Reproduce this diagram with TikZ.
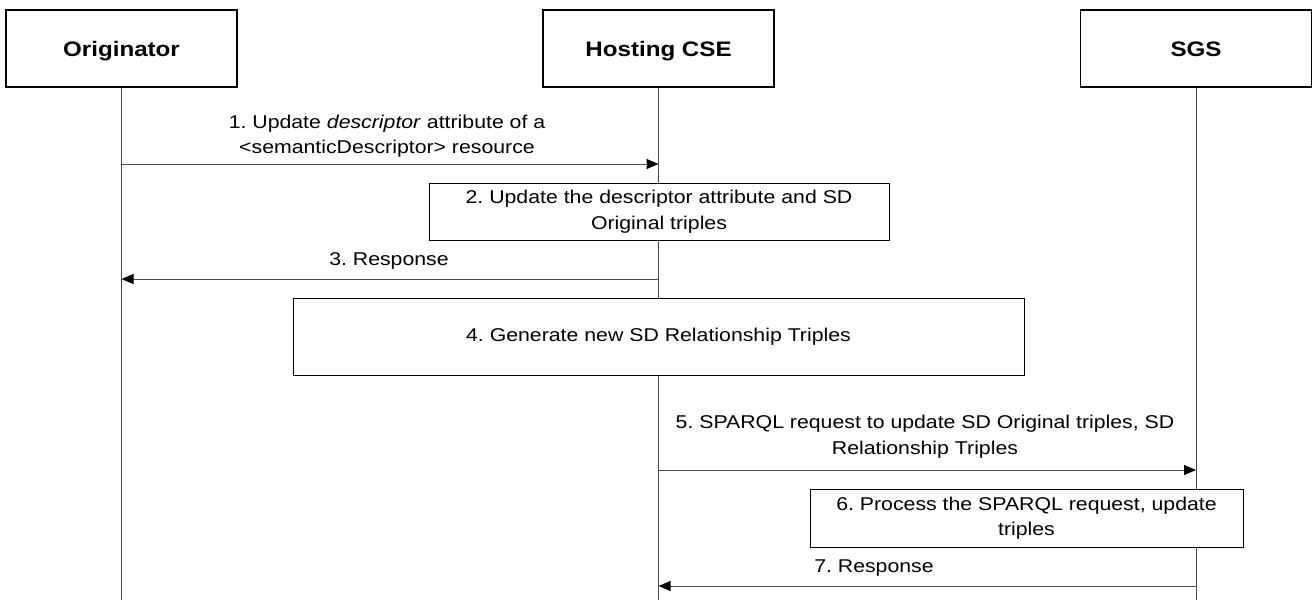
\documentclass[tikz,border=0pt]{standalone}
\usepackage{fontspec}
\setmainfont{Liberation Sans}[FakeStretch=1.15]
\usetikzlibrary{arrows.meta}
\frenchspacing

\newcommand{\msgfont}{\fontsize{18.5}{25.5}\selectfont}

\tikzset{
    entity/.style={draw, line width=1.6pt, minimum width=231pt, minimum height=77pt, text height=15pt, text depth=0pt, font=\fontsize{21}{25}\selectfont\bfseries},
    stepbox/.style={draw, fill=white, line width=0.8pt, align=center, inner sep=0pt, font=\msgfont},
    lifeline/.style={draw=black!70, line width=1pt},
    msg/.style={draw=black!70, line width=1pt, -{Triangle[length=12pt, width=10pt, color=black]}},
    msgtext/.style={align=center, inner sep=0pt, font=\msgfont},
}

\begin{document}
\begin{tikzpicture}[x=1pt, y=-1pt]
    \useasboundingbox (0,0) rectangle (1313,600);

    % entities
    \node[entity] (orig) at (121.5,48.5)  {Originator};
    \node[entity] (host) at (658.5,48.5)  {Hosting CSE};
    \node[entity] (sgs)  at (1196,48.5)   {SGS};

    % lifelines
    \coordinate (orig-end) at (orig.south |- 0,600);
    \coordinate (host-end) at (host.south |- 0,600);
    \coordinate (sgs-end)  at (sgs.south |- 0,600);
    \draw[lifeline] (orig.south) -- (orig-end);
    \draw[lifeline] (host.south) -- (host-end);
    \draw[lifeline] (sgs.south) -- (sgs-end);

    % 1
    \coordinate (o1) at (orig.south |- 0,164);
    \coordinate (h1) at (host.south |- 0,164);
    \draw[msg] (o1) -- (h1);
    \node[msgtext] (t1) at (387,136) {1. Update \textit{descriptor} attribute of a\\ <semanticDescriptor> resource};

    % 2
    \node[stepbox, minimum width=460pt, minimum height=57pt] (s2) at (659,211.5)
        {2. Update the descriptor attribute and SD\\ Original triples};

    % 3
    \coordinate (h3) at (host.south |- 0,279);
    \coordinate (o3) at (orig.south |- 0,279);
    \draw[msg] (h3) -- (o3);
    \node[msgtext] (t3) at (389,261) {3. Response};

    % 4
    \node[stepbox, minimum width=731pt, minimum height=77pt] (s4) at (658.5,336.5)
        {4. Generate new SD Relationship Triples};

    % 5
    \coordinate (h5) at (host.south |- 0,470);
    \coordinate (g5) at (sgs.south |- 0,470);
    \draw[msg] (h5) -- (g5);
    \node[msgtext] (t5) at (925,436.5) {5. SPARQL request to update SD Original triples, SD\\ Relationship Triples};

    % 6
    \node[stepbox, minimum width=433pt, minimum height=58pt] (s6) at (1026.5,518)
        {6. Process the SPARQL request, update\\ triples};

    % 7
    \coordinate (g7) at (sgs.south |- 0,586);
    \coordinate (h7) at (host.south |- 0,586);
    \draw[msg] (g7) -- (h7);
    \node[msgtext] (t7) at (874,568) {7. Response};
\end{tikzpicture}
\end{document}
